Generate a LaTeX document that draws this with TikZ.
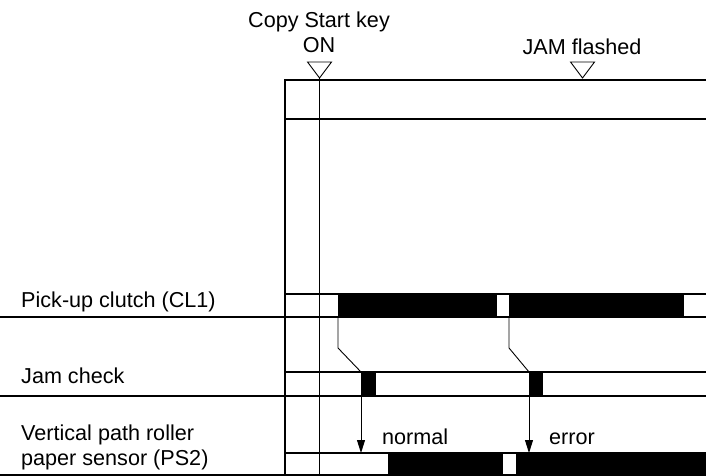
\documentclass[tikz,border=0pt]{standalone}
\usepackage{fontspec}
\setmainfont{Liberation Sans}
\usetikzlibrary{arrows.meta, positioning}
\tikzset{>={Triangle[length=13pt, width=8pt]}}
\tikzset{font=\fontsize{21.6}{25}\selectfont}
\tikzset{
  siglbl/.style={anchor=base west, inner sep=0pt},
  toplbl/.style={anchor=base, inner sep=0pt},
  border/.style={line width=1.8pt},
  rowtop/.style={line width=1.3pt},
  pulse/.style={fill=black, draw=none},
  marker/.style={draw, line width=0.9pt, fill=white},
}

\begin{document}
\begin{tikzpicture}[x=1pt, y=-1pt]
      \useasboundingbox (0, 0) rectangle (706, 476);
      % timing markers
      \node[toplbl] (startlbl) at (319, 28) {Copy Start key};
      \node[toplbl] (onlbl) at (319, 53) {ON};
      \draw[marker] (307.5, 62) -- (331.5, 62) -- (319.5, 78) -- cycle;
      \node[toplbl] (jamlbl) at (582, 55) {JAM flashed};
      \draw[marker] (570.5, 62) -- (594.5, 62) -- (582.5, 78) -- cycle;
      % frame
      \draw[border] (285, 476) -- (285, 80) -- (706, 80);
      \draw[border] (285, 119) -- (706, 119);
      \draw[line width=0.9pt] (319, 78) -- (319, 476);
      % pick-up clutch
      \node[siglbl] (clutchlbl) at (21, 307) {Pick-up clutch (CL1)};
      \draw[rowtop] (285, 294) -- (706, 294);
      \fill[pulse] (338, 294) rectangle (497, 317);
      \fill[pulse] (509, 294) rectangle (684, 317);
      \draw[border] (0, 317) -- (706, 317);
      % jam check
      \node[siglbl] (checklbl) at (21, 383) {Jam check};
      \draw[rowtop] (285, 372) -- (706, 372);
      \fill[pulse] (361, 372) rectangle (376, 396);
      \fill[pulse] (529, 372) rectangle (543, 396);
      \draw[border] (0, 396) -- (706, 396);
      % paper sensor
      \node[siglbl] (ps2lbla) at (21, 440) {Vertical path roller};
      \node[siglbl] (ps2lblb) at (21, 465) {paper sensor (PS2)};
      \draw[rowtop] (285, 453) -- (706, 453);
      \fill[pulse] (388, 453) rectangle (503, 475);
      \fill[pulse] (516, 453) rectangle (706, 475);
      \draw[border] (0, 475) -- (706, 475);
      % checks
      \coordinate (ona) at (338, 317);
      \coordinate (onb) at (509, 317);
      \coordinate (chka) at (361, 372);
      \coordinate (chkb) at (529, 372);
      \coordinate (senb) at (529, 453);
      \coordinate (sena) at (361, 453);
      \draw[line width=0.9pt] (ona) -- (338, 348) -- (chka);
      \draw[line width=0.9pt] (onb) -- (509, 348) -- (chkb);
      \draw[->, line width=0.9pt] (361, 396) -- (sena);
      \draw[->, line width=0.9pt] (529, 396) -- (senb);
      \node[siglbl] (normallbl) at (382, 444) {normal};
      \node[siglbl] (errorlbl) at (549, 444) {error};
    \end{tikzpicture}
\end{document}
